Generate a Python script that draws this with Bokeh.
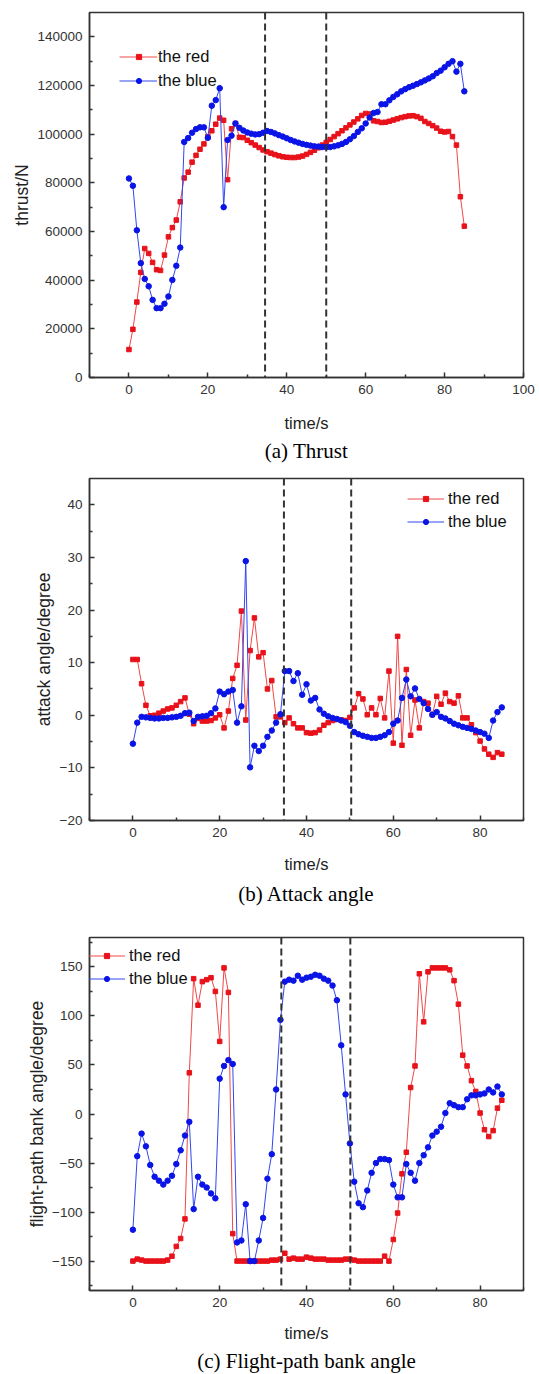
from bokeh.plotting import figure
from bokeh.models import Range1d, FixedTicker, Span, Legend, LegendItem, Title, BasicTickFormatter
from bokeh.layouts import column
from bokeh.embed import file_html
from bokeh.resources import INLINE

# ---------------- data ----------------
time_s = list(range(0, 86))

thrust_red = [11500, 19800, 31000, 43200, 53000, 51000, 47300, 44300, 44000, 50300,
              57800, 61600, 64700, 72200, 82000, 84400, 88500, 91300, 93800, 96000,
              99000, 101400, 104100, 106600, 105700, 81300, 102200, 104400, 98700, 98600,
              97500, 96500, 95500, 94500, 93500, 92800, 92200, 91600, 91100, 90700,
              90500, 90400, 90400, 90600, 91000, 91700, 92500, 93400, 94400, 95500,
              96600, 97800, 99000, 100200, 101400, 102600, 103800, 105000, 106300, 107700,
              108500, 108300, 105500, 105200, 104800, 104900, 105300, 105800, 106300, 106800,
              107200, 107500, 107600, 107200, 106500, 105200, 104400, 103500, 102500, 101200,
              100900, 101100, 99000, 95500, 74300, 62200]
thrust_blue = [81800, 78800, 60500, 47000, 40500, 37500, 31900, 28500, 28500, 30300,
               33300, 40100, 45900, 53400, 96800, 98400, 100600, 102100, 102800, 102800,
               98500, 111700, 114000, 118900, 70000, 97600, 99400, 104400, 102600, 101500,
               100700, 100200, 99900, 100000, 100600, 101300, 100900, 100300, 99600, 99000,
               98300, 97600, 97000, 96500, 96000, 95600, 95300, 95000, 94900, 94700,
               94700, 94700, 95000, 95400, 96000, 96800, 97900, 99200, 100900, 102400,
               104400, 106800, 108700, 109100, 112300, 112300, 113900, 115300, 116400, 117600,
               118500, 119300, 119900, 120600, 121300, 122100, 122900, 123800, 125100, 126100,
               127500, 128900, 130000, 125700, 128900, 117600]

attack_red = [10.6, 10.6, 6.0, 1.9, -0.1, 0.0, 0.4, 0.8, 1.2, 1.4,
              1.9, 2.6, 3.3, 0.2, -1.6, -0.6, -1.1, -1.1, -1.0, -0.5,
              0.1, -2.4, 0.8, 7.0, 9.5, 19.8, -0.9, 12.3, 18.5, 11.1,
              11.9, 5.0, 6.6, -0.3, -0.3, -1.4, -0.5, -1.6, -2.4, -2.4,
              -3.3, -3.4, -3.3, -2.8, -1.9, -1.4, -1.0, -0.8, -0.9, -1.0,
              -0.4, 1.4, 4.1, 3.1, 0.1, 1.4, 0.1, 3.2, -0.5, 8.4,
              -5.3, 15.0, -5.7, 8.7, -3.8, 2.9, -2.4, 2.6, 2.3, 0.1,
              3.6, 2.1, 4.2, 2.6, 2.3, 3.7, -0.5, -0.5, -1.8, -3.3,
              -4.9, -6.4, -7.4, -8.0, -7.1, -7.4]
attack_blue = [-5.4, -1.4, -0.3, -0.4, -0.5, -0.6, -0.6, -0.5, -0.5, -0.4,
               -0.3, -0.1, 0.4, 0.5, -1.1, -0.3, -0.2, -0.1, 0.4, 1.3,
               4.5, 4.0, 4.5, 4.8, -1.4, 1.7, 29.3, -9.9, -5.8, -6.8,
               -5.8, -4.1, -2.9, -1.4, 0.2, 8.4, 8.4, 6.5, 8.0, 3.9,
               5.9, 2.8, 3.3, 1.1, 0.3, -0.2, -0.5, -0.7, -1.0, -1.3,
               -2.0, -3.2, -3.6, -3.9, -4.1, -4.3, -4.3, -4.1, -3.8, -3.2,
               -1.6, -1.0, 3.3, 6.8, 3.6, 5.1, 3.1, 2.3, 1.2, 0.1,
               0.6, -0.3, -0.6, -1.1, -1.6, -1.9, -2.2, -2.4, -2.6, -2.9,
               -3.2, -3.5, -4.3, -1.0, 0.6, 1.5]

bank_red = [-150, -148, -149, -150, -150, -150, -150, -150, -149, -145,
            -135, -127, -107, 42, 138, 111, 135, 137, 139, 125,
            74, 149, 124, -122, -150, -150, -150, -150, -150, -150,
            -150, -150, -149, -149, -148, -142, -148, -147, -148, -148,
            -146, -147, -148, -148, -148, -149, -149, -149, -149, -148,
            -148, -149, -150, -150, -150, -150, -150, -150, -145, -150,
            -128, -101, -61, -39, 27, 49, 143, 94, 145, 149,
            149, 149, 149, 147, 136, 112, 60, 49, 34, 23,
            1, -16, -23, -17, 6, 14]
bank_blue = [-118, -43, -20, -33, -52, -64, -68, -72, -68, -63,
             -51, -37, -22, -8, -97, -64, -72, -75, -81, -86,
             36, 49, 55, 51, -131, -129, -92, -150, -150, -129,
             -106, -66, -41, 25, 96, 135, 137, 136, 141, 137,
             139, 140, 142, 141, 138, 136, 131, 116, 70, 20,
             -30, -69, -91, -95, -78, -60, -50, -46, -46, -47,
             -72, -85, -85, -51, -60, -68, -50, -42, -34, -22,
             -18, -13, 1, 11, 9, 7, 7, 15, 19, 19,
             20, 21, 25, 22, 28, 20]

dashed_a = [34.5, 50.0]
dashed_b = [34.8, 50.3]
dashed_c = [34.2, 50.1]

xticks_a = [0, 20, 40, 60, 80, 100]
xminor_a = [-10, 10, 30, 50, 70, 90]
yticks_a = [0, 20000, 40000, 60000, 80000, 100000, 120000, 140000]
yminor_a = [10000, 30000, 50000, 70000, 90000, 110000, 130000]

xticks_bc = [0, 20, 40, 60, 80]
xminor_bc = [-10, 10, 30, 50, 70, 90]
yticks_b = [-20, -10, 0, 10, 20, 30, 40]
yminor_b = [-15, -5, 5, 15, 25, 35]
yticks_c = [-150, -100, -50, 0, 50, 100, 150]
yminor_c = [-175, -125, -75, -25, 25, 75, 125, 175]

labels = ["the red", "the blue"]
captions = ["(a) Thrust", "(b) Attack angle", "(c) Flight-path bank angle"]

AX = "#333333"
RED_LINE, RED_MK = "#f04848", "#e8121a"
BLUE_LINE, BLUE_MK = "#3246f0", "#0a14e6"


def panel(height, borders, xr, yr, xt, xm, yt, ym, ylabel, red, blue, dashes,
          leg_xy, leg_gap, leg_standoff, caption, cap_off, cap_standoff, glyph_w,
          xlab_off, ylab_off):
    left, right, top, bottom = borders
    p = figure(width=539, height=height, output_backend="svg", toolbar_location=None,
               x_range=Range1d(*xr), y_range=Range1d(*yr),
               min_border_left=left, min_border_right=right,
               min_border_top=top, min_border_bottom=bottom)
    p.xgrid.visible = False
    p.ygrid.visible = False
    p.outline_line_color = AX
    p.outline_line_width = 1.5
    p.outline_line_alpha = 1.0
    p.background_fill_color = "white"
    p.border_fill_color = "white"
    for ax in (p.xaxis[0], p.yaxis[0]):
        ax.axis_line_color = AX
        ax.axis_line_width = 1.5
        ax.major_tick_in = 5
        ax.major_tick_out = 0
        ax.minor_tick_in = 3
        ax.minor_tick_out = 0
        ax.major_tick_line_color = AX
        ax.minor_tick_line_color = AX
        ax.major_tick_line_width = 1.5
        ax.minor_tick_line_width = 1.5
        ax.major_label_text_font = "Liberation Sans"
        ax.major_label_text_font_size = "13.5px"
        ax.major_label_text_color = AX
        ax.axis_label_text_font = "Liberation Sans"
        ax.axis_label_text_font_style = "normal"
        ax.axis_label_text_color = "#222222"
        ax.major_label_standoff = 7
    p.xaxis[0].ticker = FixedTicker(ticks=xt, minor_ticks=xm)
    p.yaxis[0].ticker = FixedTicker(ticks=yt, minor_ticks=ym)
    p.yaxis[0].formatter = BasicTickFormatter(use_scientific=False)
    p.xaxis[0].axis_label = "time/s"
    p.xaxis[0].axis_label_text_font_size = "16.5px"
    p.xaxis[0].axis_label_standoff = xlab_off
    p.yaxis[0].axis_label = ylabel
    p.yaxis[0].axis_label_text_font_size = "17.5px"
    p.yaxis[0].axis_label_standoff = ylab_off

    for d in dashes:
        p.add_layout(Span(location=d, dimension="height", line_color=AX,
                          line_width=2, line_dash="7 4"))

    lr = p.line(time_s, red, line_color=RED_LINE, line_width=1)
    sr = p.scatter(time_s, red, marker="square", size=4.5, fill_color=RED_MK,
                   line_color=RED_MK)
    lb = p.line(time_s, blue, line_color=BLUE_LINE, line_width=1)
    sb = p.scatter(time_s, blue, marker="circle", size=5.5, fill_color=BLUE_MK,
                   line_color=BLUE_MK)

    common = dict(border_line_color=None, background_fill_alpha=0, padding=0, margin=0,
                  spacing=leg_gap, label_standoff=leg_standoff, glyph_height=21,
                  label_height=21, label_text_font="Liberation Sans",
                  label_text_font_size="16.5px", label_text_color="#111111")
    # line part of the legend keys, with the labels
    leg_lines = Legend(items=[LegendItem(label=labels[0], renderers=[lr]),
                              LegendItem(label=labels[1], renderers=[lb])],
                       location=leg_xy, glyph_width=glyph_w, **common)
    # small marker in the middle of each legend key
    mk_w = 13
    leg_marks = Legend(items=[LegendItem(label=" ", renderers=[sr]),
                              LegendItem(label=" ", renderers=[sb])],
                       location=(leg_xy[0] + (glyph_w - mk_w) / 2, leg_xy[1]),
                       glyph_width=mk_w, **common)
    p.add_layout(leg_lines)
    p.add_layout(leg_marks)

    p.add_layout(Title(text=caption, align="center", offset=cap_off,
                       standoff=cap_standoff,
                       text_font="Liberation Serif", text_font_size="21px",
                       text_font_style="normal", text_color="#000000"), "below")
    return p


pa = panel(465, (89, 12, 12, 86), (-10, 100), (0, 150000), xticks_a, xminor_a,
           yticks_a, yminor_a, "thrust/N", thrust_red, thrust_blue, dashed_a,
           (30, 286), 3, 1, captions[0], -8, 5, 38, 17, 2)
pb = panel(445, (85, 14, 13, 87), (-10, 90), (-20, 45), xticks_bc, xminor_bc,
           yticks_b, yminor_b, "attack angle/degree", attack_red, attack_blue, dashed_b,
           (318, 288), 2, 4, captions[1], 12, 9, 37, 15, 3)
pc = panel(464, (84, 16, 27, 83), (-10, 90), (-180, 180), xticks_bc, xminor_bc,
           yticks_c, yminor_c, "flight-path bank angle/degree", bank_red, bank_blue,
           dashed_c, (-2, 301), 2, 4, captions[2], 34, 4, 38, 14, 2)

layout = column(pa, pb, pc, spacing=0)
open("out.html", "w").write(file_html(layout, INLINE))
